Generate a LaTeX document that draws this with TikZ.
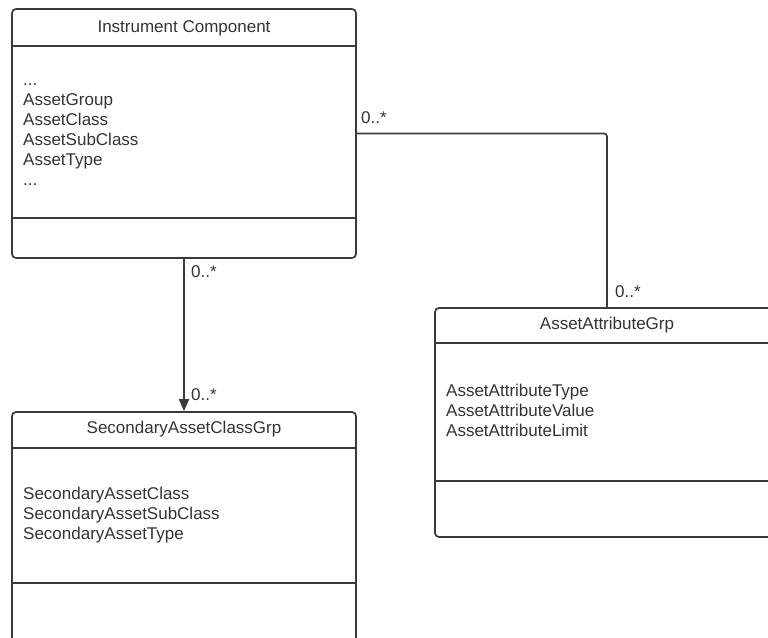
\documentclass[tikz,border=0pt]{standalone}
\usepackage{fontspec}
\setmainfont{Liberation Sans}
\usetikzlibrary{arrows.meta}
\definecolor{linec}{HTML}{3A3A3A}
\definecolor{textc}{HTML}{333333}
\tikzset{
  umlbox/.style={draw=linec, line width=1.7pt, rounded corners=4pt, fill=white, inner sep=0pt},
  divider/.style={draw=linec, line width=1.7pt},
  conn/.style={draw=linec, line width=1.7pt, rounded corners=3pt},
  txt/.style={anchor=base west, inner sep=0pt, text=textc, font=\fontsize{17}{20}\selectfont},
  hdr/.style={anchor=base, inner sep=0pt, text=textc, font=\fontsize{17}{20}\selectfont},
  mult/.style={anchor=base west, inner sep=0pt, text=textc, font=\fontsize{17}{20}\selectfont}
}
\begin{document}
\begin{tikzpicture}[x=1pt,y=-1pt]
\useasboundingbox (0,0) rectangle (768,637);
\clip (0,0) rectangle (768,637);
% Instrument Component
\node[umlbox, minimum width=344pt, minimum height=249pt] (ic) at (184,133.5) {};
\draw[divider] (12,46) -- (356,46);
\draw[divider] (12,218) -- (356,218);
\node[hdr] (ich) at (184,32) {Instrument Component};
\node[txt] (ic0) at (23,85) {...};
\node[txt] (ic1) at (23,105) {AssetGroup};
\node[txt] (ic2) at (23,125) {AssetClass};
\node[txt] (ic3) at (23,145) {AssetSubClass};
\node[txt] (ic4) at (23,165) {AssetType};
\node[txt] (ic5) at (23,185) {...};
% SecondaryAssetClassGrp
\node[umlbox, minimum width=344pt, minimum height=270pt] (sec) at (184,547) {};
\draw[divider] (12,448) -- (356,448);
\draw[divider] (12,583) -- (356,583);
\node[hdr] (sech) at (184,433.5) {SecondaryAssetClassGrp};
\node[txt] (sec1) at (23,499) {SecondaryAssetClass};
\node[txt] (sec2) at (23,519) {SecondaryAssetSubClass};
\node[txt] (sec3) at (23,539) {SecondaryAssetType};
% AssetAttributeGrp
\node[umlbox, minimum width=344pt, minimum height=229pt] (aag) at (607,422.5) {};
\draw[divider] (435,343) -- (779,343);
\draw[divider] (435,481) -- (779,481);
\node[hdr] (aagh) at (607,329.5) {AssetAttributeGrp};
\node[txt] (aag1) at (446,396) {AssetAttributeType};
\node[txt] (aag2) at (446,416) {AssetAttributeValue};
\node[txt] (aag3) at (446,436) {AssetAttributeLimit};
% connectors
\draw[conn] (ic.east) -| (aag.north);
\draw[conn, -{Triangle[length=12pt,width=10pt]}] (ic.south) -- (sec.north);
% multiplicities
\node[mult] (m1) at (361,123) {0..*};
\node[mult] (m2) at (615,297) {0..*};
\node[mult] (m3) at (191,277) {0..*};
\node[mult] (m4) at (191,400) {0..*};
\end{tikzpicture}
\end{document}
